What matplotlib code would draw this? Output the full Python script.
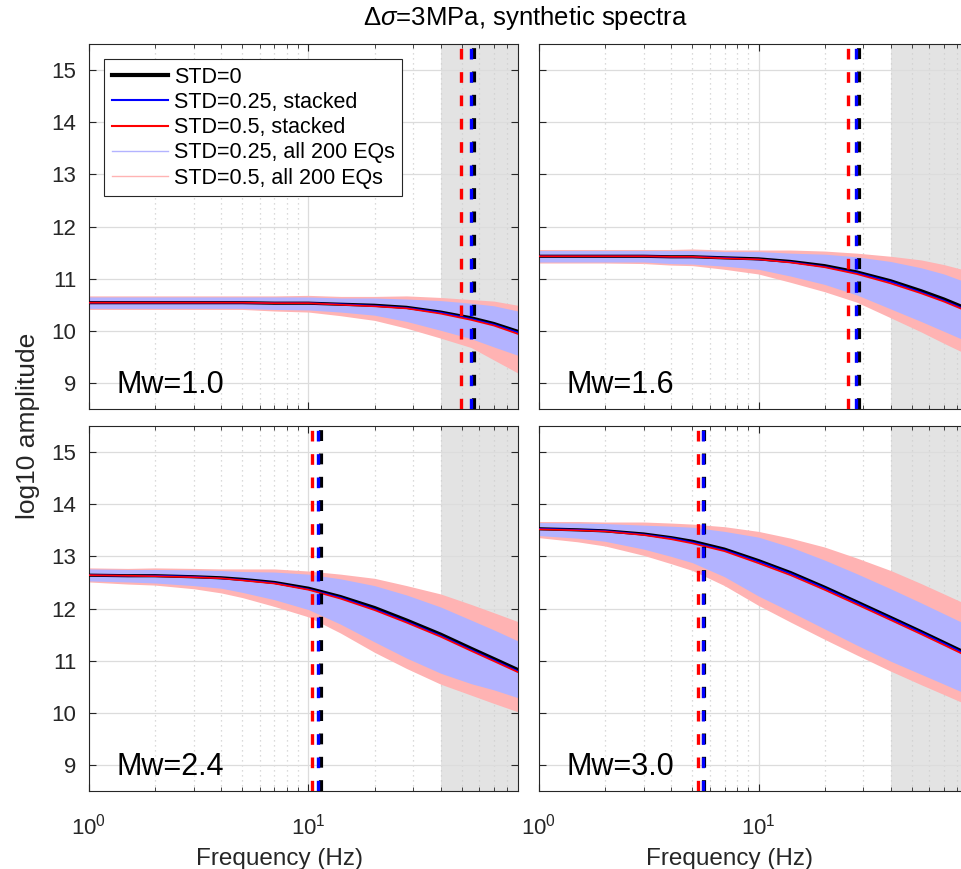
import matplotlib
matplotlib.use('Agg')
import matplotlib.pyplot as plt
from matplotlib.lines import Line2D
from matplotlib.ticker import LogLocator, NullFormatter, FixedLocator

plt.rcParams['font.family'] = ['Liberation Sans', 'DejaVu Sans']
plt.rcParams['mathtext.fontset'] = 'custom'
plt.rcParams['mathtext.rm'] = 'Liberation Sans'
plt.rcParams['mathtext.it'] = 'Liberation Sans:italic'

freq = [1, 1.5, 2, 3, 4, 5, 7, 10, 14, 20, 28, 40, 55, 70, 90]

mw_labels = ['Mw=1.0', 'Mw=1.6', 'Mw=2.4', 'Mw=3.0']

# corner frequencies (vertical dashed lines)
fc_std0 = [56.7, 28.6, 11.35, 5.67]
fc_std025 = [54.9, 27.7, 11.1, 5.6]
fc_std05 = [49.4, 25.5, 10.4, 5.32]

# STD=0 spectra
std0 = [
    [10.54, 10.54, 10.54, 10.54, 10.54, 10.54, 10.53, 10.53, 10.51, 10.49, 10.45, 10.36, 10.25, 10.14, 9.99],
    [11.43, 11.43, 11.43, 11.43, 11.42, 11.42, 11.40, 11.38, 11.33, 11.25, 11.13, 10.96, 10.77, 10.61, 10.42],
    [12.64, 12.63, 12.63, 12.61, 12.59, 12.56, 12.50, 12.39, 12.23, 12.02, 11.78, 11.51, 11.24, 11.04, 10.83],
    [13.53, 13.51, 13.49, 13.43, 13.36, 13.29, 13.14, 12.92, 12.69, 12.41, 12.13, 11.83, 11.56, 11.35, 11.13],
]

# stacked spectra
stack025 = [
    [10.54, 10.54, 10.54, 10.54, 10.54, 10.54, 10.53, 10.53, 10.51, 10.48, 10.44, 10.35, 10.23, 10.12, 9.97],
    [11.43, 11.43, 11.43, 11.43, 11.42, 11.42, 11.40, 11.37, 11.32, 11.23, 11.11, 10.94, 10.74, 10.58, 10.39],
    [12.64, 12.63, 12.63, 12.61, 12.58, 12.55, 12.49, 12.37, 12.21, 11.99, 11.75, 11.48, 11.21, 11.01, 10.80],
    [13.53, 13.51, 13.49, 13.42, 13.35, 13.27, 13.12, 12.90, 12.67, 12.39, 12.11, 11.81, 11.54, 11.33, 11.11],
]
stack05 = [
    [10.54, 10.54, 10.54, 10.54, 10.54, 10.54, 10.53, 10.53, 10.50, 10.47, 10.43, 10.33, 10.21, 10.10, 9.94],
    [11.43, 11.43, 11.43, 11.43, 11.42, 11.42, 11.39, 11.37, 11.31, 11.22, 11.09, 10.91, 10.72, 10.56, 10.37],
    [12.64, 12.63, 12.62, 12.60, 12.58, 12.54, 12.48, 12.36, 12.19, 11.97, 11.73, 11.46, 11.19, 10.99, 10.78],
    [13.52, 13.50, 13.48, 13.41, 13.33, 13.25, 13.10, 12.87, 12.64, 12.36, 12.08, 11.78, 11.51, 11.30, 11.08],
]

# envelopes of the 200 individual spectra
blue_hi = [
    [10.65, 10.65, 10.65, 10.65, 10.65, 10.65, 10.65, 10.65, 10.63, 10.63, 10.61, 10.58, 10.53, 10.48, 10.38],
    [11.54, 11.54, 11.54, 11.54, 11.54, 11.54, 11.52, 11.52, 11.49, 11.47, 11.42, 11.33, 11.21, 11.09, 10.92],
    [12.76, 12.75, 12.75, 12.74, 12.73, 12.71, 12.70, 12.66, 12.57, 12.44, 12.26, 12.03, 11.78, 11.59, 11.38],
    [13.65, 13.64, 13.63, 13.60, 13.58, 13.56, 13.48, 13.37, 13.18, 12.93, 12.67, 12.38, 12.11, 11.90, 11.68],
]
blue_lo = [
    [10.43, 10.43, 10.43, 10.43, 10.43, 10.43, 10.41, 10.40, 10.36, 10.30, 10.18, 10.01, 9.85, 9.69, 9.53],
    [11.32, 11.32, 11.32, 11.32, 11.29, 11.28, 11.24, 11.18, 11.05, 10.89, 10.69, 10.42, 10.18, 9.99, 9.79],
    [12.53, 12.51, 12.49, 12.44, 12.39, 12.31, 12.17, 11.98, 11.70, 11.36, 11.05, 10.76, 10.56, 10.44, 10.29],
    [13.40, 13.35, 13.29, 13.14, 13.00, 12.88, 12.61, 12.24, 11.94, 11.61, 11.30, 10.99, 10.74, 10.55, 10.35],
]
pink_hi = [
    [10.67, 10.67, 10.67, 10.67, 10.67, 10.67, 10.67, 10.68, 10.66, 10.66, 10.67, 10.64, 10.60, 10.57, 10.49],
    [11.56, 11.56, 11.56, 11.56, 11.56, 11.57, 11.55, 11.55, 11.55, 11.53, 11.49, 11.43, 11.36, 11.27, 11.15],
    [12.78, 12.77, 12.78, 12.77, 12.76, 12.76, 12.76, 12.72, 12.66, 12.58, 12.44, 12.28, 12.08, 11.92, 11.75],
    [13.67, 13.67, 13.66, 13.66, 13.64, 13.62, 13.57, 13.48, 13.35, 13.18, 12.97, 12.73, 12.48, 12.28, 12.07],
]
pink_lo = [
    [10.41, 10.41, 10.41, 10.41, 10.41, 10.41, 10.38, 10.36, 10.29, 10.20, 10.05, 9.86, 9.68, 9.44, 9.19],
    [11.30, 11.30, 11.30, 11.29, 11.26, 11.25, 11.18, 11.09, 10.93, 10.75, 10.55, 10.25, 9.98, 9.76, 9.54],
    [12.51, 12.47, 12.45, 12.38, 12.30, 12.21, 12.04, 11.84, 11.53, 11.16, 10.85, 10.55, 10.34, 10.18, 10.02],
    [13.36, 13.28, 13.20, 13.02, 12.86, 12.73, 12.44, 12.06, 11.74, 11.41, 11.11, 10.80, 10.54, 10.35, 10.15],
]

light_blue = (0.7, 0.7, 1.0)
light_red = (1.0, 0.7, 0.7)
ink = '#262626'

fig = plt.figure(figsize=(9.62, 8.69), dpi=100)

# axes boxes: left, bottom, width, height
boxes = [
    [0.0925, 0.5293, 0.4459, 0.4200],
    [0.5603, 0.5293, 0.4459, 0.4200],
    [0.0925, 0.0897, 0.4459, 0.4200],
    [0.5603, 0.0897, 0.4459, 0.4200],
]

for i in range(4):
    ax = fig.add_axes(boxes[i])
    ax.set_xscale('log')
    ax.set_xlim(1, 90)
    ax.set_ylim(8.5, 15.5)
    ax.set_axisbelow(True)

    # shaded band above 40 Hz
    ax.axvspan(40, 90, color='#e3e3e3', lw=0, zorder=0.1)

    ax.fill_between(freq, pink_lo[i], pink_hi[i], color=light_red, lw=0, zorder=1)
    ax.fill_between(freq, blue_lo[i], blue_hi[i], color=light_blue, lw=0, zorder=1.1)

    ax.plot(freq, std0[i], color='k', lw=2.3, zorder=3)
    ax.plot(freq, stack025[i], color='b', lw=1.2, zorder=3.1)
    ax.plot(freq, stack05[i], color='r', lw=1.2, zorder=3.2)

    ax.axvline(fc_std0[i], color='k', lw=3.0, dashes=(2.6, 3.0), zorder=4)
    ax.axvline(fc_std025[i], color='b', lw=2.4, dashes=(3.2, 3.8), zorder=4.1)
    ax.axvline(fc_std05[i], color='r', lw=2.4, dashes=(3.2, 3.8), zorder=4.2)

    ax.text(0.064, 0.045, mw_labels[i], transform=ax.transAxes, fontsize=22,
            color='k', va='baseline', ha='left', zorder=6)

    ax.xaxis.set_major_locator(LogLocator(base=10, numticks=10))
    ax.xaxis.set_minor_locator(LogLocator(base=10, subs=range(2, 10), numticks=20))
    ax.xaxis.set_minor_formatter(NullFormatter())
    ax.yaxis.set_major_locator(FixedLocator([9, 10, 11, 12, 13, 14, 15]))

    ax.grid(which='major', color='#dcdcdc', lw=0.9, ls='-')
    ax.grid(which='minor', axis='x', color='#cfcfcf', lw=0.9, ls=(0, (1, 3)))

    ax.tick_params(which='both', direction='in', top=True, right=True,
                   colors=ink, labelsize=16)
    ax.tick_params(which='major', length=5, width=0.8)
    ax.tick_params(which='minor', length=3, width=0.6)
    ax.tick_params(axis='y', pad=9)
    ax.tick_params(axis='x', pad=16)
    for s in ax.spines.values():
        s.set_color(ink)
        s.set_linewidth(0.8)

    if i < 2:
        ax.tick_params(labelbottom=False)
    else:
        ax.set_xlabel('Frequency (Hz)', fontsize=17.5, color=ink, labelpad=6)
        ax.xaxis.label.set_x(0.445)
    if i % 2 == 1:
        ax.tick_params(labelleft=False)

    if i == 0:
        handles = [
            Line2D([], [], color='k', lw=3.0),
            Line2D([], [], color='b', lw=1.5),
            Line2D([], [], color='r', lw=1.5),
            Line2D([], [], color=light_blue, lw=1.0),
            Line2D([], [], color=light_red, lw=1.0),
        ]
        labels = ['STD=0', 'STD=0.25, stacked', 'STD=0.5, stacked',
                  'STD=0.25, all 200 EQs', 'STD=0.5, all 200 EQs']
        leg = ax.legend(handles, labels, loc='upper left', bbox_to_anchor=(0.035, 0.959),
                        borderaxespad=0, fontsize=15.5, frameon=True, fancybox=False,
                        framealpha=1, edgecolor=ink, handlelength=2.6, handletextpad=0.3,
                        labelspacing=0.2, borderpad=0.35)
        leg.get_frame().set_linewidth(0.8)
        leg.set_zorder(10)

fig.text(0.546, 0.979, r'$\Delta\sigma$=3MPa, synthetic spectra', fontsize=18.5,
         ha='center', va='center', color='k')
fig.text(0.029, 0.51, 'log10 amplitude', fontsize=19, rotation=90,
         ha='center', va='center', color=ink)

fig.savefig('out.png', dpi=100)
